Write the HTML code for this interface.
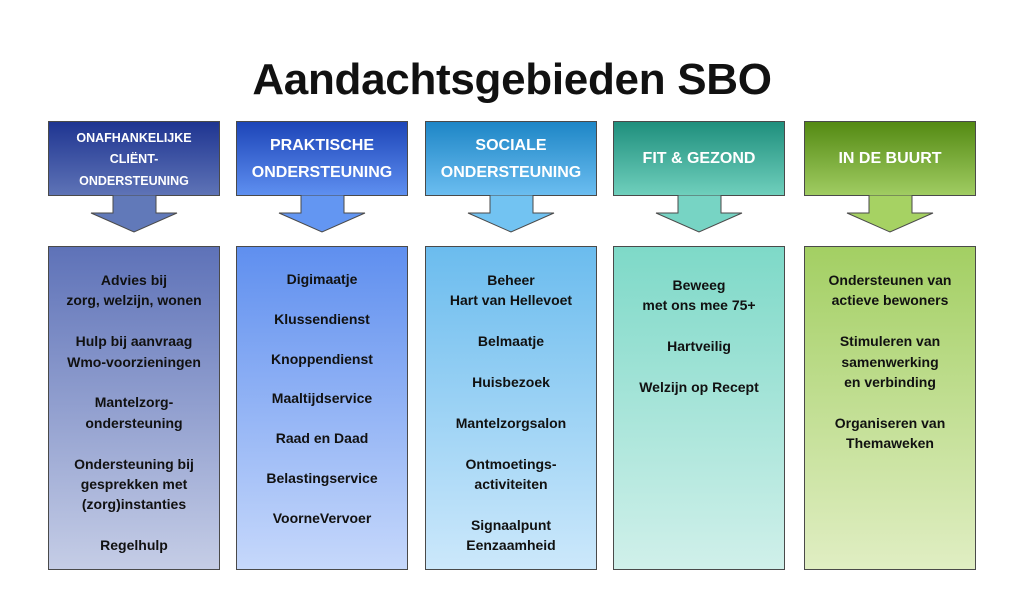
<!DOCTYPE html>
<html><head><meta charset="utf-8"><style>
body{margin:0;width:1024px;height:615px;background:#fff;position:relative;overflow:hidden;font-family:"Liberation Sans",sans-serif;font-weight:bold}
.title{position:absolute;left:0;width:1024px;top:55px;text-align:center;font-size:44px;color:#111;letter-spacing:-0.3px}
.h{position:absolute;top:121px;height:75px;border:1px solid #4a4a4a;box-sizing:border-box;color:#fff;text-align:center;display:flex;align-items:center;justify-content:center;font-size:16px;line-height:27px}
.b{position:absolute;top:246px;height:324px;border:1px solid #4a4a4a;box-sizing:border-box;color:#111;text-align:center;font-size:14px;line-height:20.4px;padding-top:23px}
svg{position:absolute;top:195px}
</style></head><body>
<div class="title">Aandachtsgebieden SBO</div>

<div class="h" style="left:48px;width:172px;background:linear-gradient(#1f3591,#5e73b6);font-size:12.5px;line-height:21.5px;padding-top:3px">ONAFHANKELIJKE<br>CLIËNT-<br>ONDERSTEUNING</div>
<div class="h" style="left:236px;width:172px;background:linear-gradient(#1d45b8,#5e8ff0)">PRAKTISCHE<br>ONDERSTEUNING</div>
<div class="h" style="left:425px;width:172px;background:linear-gradient(#1e86c6,#6bbdf0)">SOCIALE<br>ONDERSTEUNING</div>
<div class="h" style="left:613px;width:172px;background:linear-gradient(#1f8f7d,#6fcfbc)">FIT &amp; GEZOND</div>
<div class="h" style="left:804px;width:172px;background:linear-gradient(#548a13,#a0cc62)">IN DE BUURT</div>

<svg style="left:48px" width="172" height="40"><polygon points="65,0 108,0 108,18 129,18 86,37 43,18 65,18" fill="#6179b9" stroke="#4a4a4a"/></svg>
<svg style="left:236px" width="172" height="40"><polygon points="65,0 108,0 108,18 129,18 86,37 43,18 65,18" fill="#6396f2" stroke="#4a4a4a"/></svg>
<svg style="left:425px" width="172" height="40"><polygon points="65,0 108,0 108,18 129,18 86,37 43,18 65,18" fill="#72c3f2" stroke="#4a4a4a"/></svg>
<svg style="left:613px" width="172" height="40"><polygon points="65,0 108,0 108,18 129,18 86,37 43,18 65,18" fill="#77d4c4" stroke="#4a4a4a"/></svg>
<svg style="left:804px" width="172" height="40"><polygon points="65,0 108,0 108,18 129,18 86,37 43,18 65,18" fill="#a6d263" stroke="#4a4a4a"/></svg>

<div class="b" style="left:48px;width:172px;background:linear-gradient(#5e72b8,#c5cde6)">Advies bij<br>zorg, welzijn, wonen<br><br>Hulp bij aanvraag<br>Wmo-voorzieningen<br><br>Mantelzorg-<br>ondersteuning<br><br>Ondersteuning bij<br>gesprekken met<br>(zorg)instanties<br><br>Regelhulp</div>
<div class="b" style="left:236px;width:172px;background:linear-gradient(#5f8fef,#c6d8fb);line-height:19.9px">Digimaatje<br><br>Klussendienst<br><br>Knoppendienst<br><br>Maaltijdservice<br><br>Raad en Daad<br><br>Belastingservice<br><br>VoorneVervoer</div>
<div class="b" style="left:425px;width:172px;background:linear-gradient(#6bbcee,#cce8fb)">Beheer<br>Hart van Hellevoet<br><br>Belmaatje<br><br>Huisbezoek<br><br>Mantelzorgsalon<br><br>Ontmoetings-<br>activiteiten<br><br>Signaalpunt<br>Eenzaamheid</div>
<div class="b" style="left:613px;width:172px;background:linear-gradient(#7ed9c8,#d0f0ea);padding-top:28px">Beweeg<br>met ons mee 75+<br><br>Hartveilig<br><br>Welzijn op Recept</div>
<div class="b" style="left:804px;width:172px;background:linear-gradient(#a3cf63,#e0eec3)">Ondersteunen van<br>actieve bewoners<br><br>Stimuleren van<br>samenwerking<br>en verbinding<br><br>Organiseren van<br>Themaweken</div>
</body></html>
